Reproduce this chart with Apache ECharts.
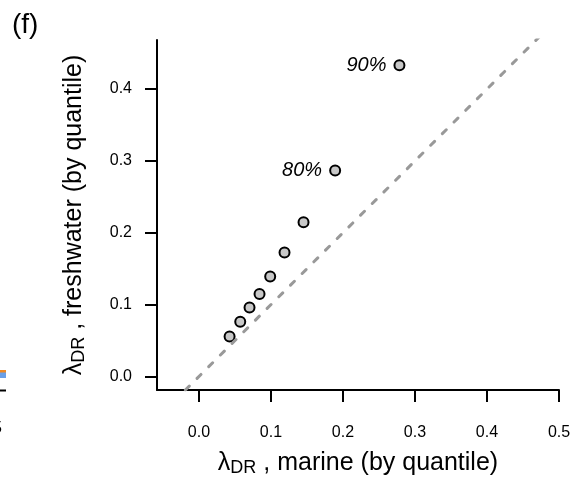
<!DOCTYPE html>
<html>
<head>
<meta charset="utf-8">
<script src="https://cdn.jsdelivr.net/npm/echarts@6/dist/echarts.min.js"></script>
<style>
  html, body { margin: 0; padding: 0; background: #fff; }
  #chart { width: 572px; height: 479px; }
</style>
</head>
<body>
<div id="chart"></div>
<script>
// quantiles 10% .. 90%
const quantiles = ['10%', '20%', '30%', '40%', '50%', '60%', '70%', '80%', '90%']
const marine = [0.0425, 0.0573, 0.0702, 0.0841, 0.0989, 0.1188, 0.1452, 0.1891, 0.2784]
const freshwater = [0.0556, 0.0761, 0.0960, 0.1146, 0.1391, 0.1725, 0.2147, 0.2865, 0.4333]
const labelled = ['80%', '90%']
const xTicks = [0, 0.1, 0.2, 0.3, 0.4, 0.5]
const yTicks = [0, 0.1, 0.2, 0.3, 0.4]
const oneToOne = [-0.1, 0.6]

const font = 'Liberation Sans, Arial, sans-serif'
const black = '#000'

const points = marine.map((x, i) => ({
  value: [x, freshwater[i]],
  name: quantiles[i],
  label: { show: labelled.includes(quantiles[i]) }
}))

const titleRich = {
  l: { fontFamily: font, fontSize: 25, color: black },
  sub: { fontFamily: font, fontSize: 18, color: black, padding: [10, 0, 0, 0], verticalAlign: 'bottom' }
}

const myEchart = echarts.init(document.getElementById('chart'), null, { renderer: 'canvas' })
myEchart.setOption({
  animation: false,
  backgroundColor: '#fff',
  grid: { left: 157, right: 13, top: 40, bottom: 89, containLabel: false, outerBoundsMode: 'none' },
  xAxis: {
    type: 'value',
    min: -0.0583,
    max: 0.5,
    name: '{l|λ}{sub|DR}{l| , marine (by quantile)}',
    nameLocation: 'middle',
    nameGap: 59,
    nameTextStyle: { rich: titleRich },
    axisLine: { show: true, onZero: false, lineStyle: { color: black, width: 2 } },
    axisTick: { show: true, customValues: xTicks, length: 12, lineStyle: { color: black, width: 2 } },
    axisLabel: {
      customValues: xTicks,
      formatter: v => v.toFixed(1),
      margin: 35,
      fontFamily: font,
      fontSize: 16,
      color: black
    },
    splitLine: { show: false }
  },
  yAxis: {
    type: 'value',
    min: -0.0189,
    max: 0.4683,
    name: '{l|λ}{sub|DR}{l| , freshwater (by quantile)}',
    nameLocation: 'middle',
    nameGap: 69,
    nameRotate: 90,
    nameTextStyle: { rich: titleRich },
    axisLine: { show: true, onZero: false, lineStyle: { color: black, width: 2 } },
    axisTick: { show: true, customValues: yTicks, length: 12, lineStyle: { color: black, width: 2 } },
    axisLabel: {
      customValues: yTicks,
      formatter: v => v.toFixed(1),
      margin: 25,
      fontFamily: font,
      fontSize: 16,
      color: black
    },
    splitLine: { show: false }
  },
  series: [
    {
      type: 'line',
      data: oneToOne.map(v => [v, v]),
      showSymbol: false,
      symbol: 'none',
      clip: true,
      silent: true,
      lineStyle: { color: '#999', width: 3, type: [5.5, 11], cap: 'round' }
    },
    {
      type: 'scatter',
      data: points,
      symbol: 'circle',
      symbolSize: 10,
      itemStyle: { color: '#c8c8c8', borderColor: black, borderWidth: 2, opacity: 1 },
      label: {
        position: 'left',
        distance: 7,
        formatter: p => p.name,
        fontFamily: font,
        fontStyle: 'italic',
        fontSize: 20,
        color: black
      }
    }
  ],
  graphic: [
    { type: 'text', left: 12, top: 11, style: { text: '(f)', font: '28px ' + font, fill: black } },
    // edge of the neighbouring panel, cut off at the left border
    { type: 'rect', shape: { x: 0, y: 370, width: 6, height: 3 }, style: { fill: '#f08a24' } },
    { type: 'rect', shape: { x: 0, y: 372.5, width: 6, height: 5.5 }, style: { fill: '#6aa0e8' } },
    { type: 'line', shape: { x1: 0, y1: 390.5, x2: 6, y2: 390.5 }, style: { stroke: black, lineWidth: 2 } },
    { type: 'text', x: 2, y: 429, style: { text: '5', font: '16px ' + font, fill: black, align: 'right', verticalAlign: 'middle' } }
  ]
})
</script>
</body>
</html>
